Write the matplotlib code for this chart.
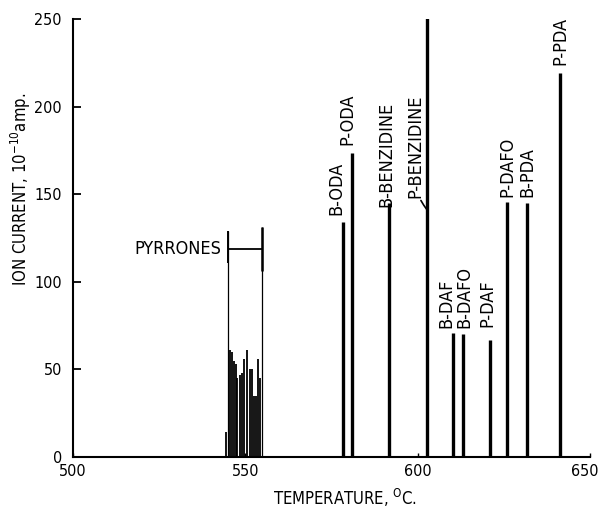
import matplotlib
matplotlib.use('Agg')
import matplotlib.pyplot as plt
from matplotlib.transforms import ScaledTranslation

plt.rcParams['font.family'] = ['DejaVu Sans']
plt.rcParams['font.stretch'] = 'condensed'
plt.rcParams['mathtext.fontset'] = 'custom'
plt.rcParams['mathtext.rm'] = 'DejaVu Sans:stretch=condensed'
plt.rcParams['mathtext.it'] = 'DejaVu Sans:stretch=condensed'

# pyrrone fragments, dense cluster around 545-555 C
pyrrone_temp = [544.4, 545.5, 546.1, 546.7, 547.3, 547.6, 548.4, 549.0, 549.6,
                550.5, 551.3, 551.9, 552.5, 553.1, 553.7, 554.2]
pyrrone_current = [14, 61, 60, 55, 53, 45, 47, 48, 56, 61, 50, 50, 35, 35, 56, 45]
pyrrone_range = (545.0, 554.8)
pyrrone_level = 119

# single peaks
peak_names = ['B-ODA', 'P-ODA', 'B-BENZIDINE', 'P-BENZIDINE', 'B-DAF',
              'B-DAFO', 'P-DAF', 'P-DAFO', 'B-PDA', 'P-PDA']
peak_temp = [578.3, 581.0, 591.7, 602.7, 610.2, 613.1, 621.0, 626.0, 631.7, 641.3]
peak_current = [134, 173.5, 145, 255, 71, 70, 67, 145.5, 145, 219]

# label offsets from the peak top, in points (dx, dy)
label_offsets = [(-4.7, 5), (-3.6, 6), (-1.8, -3), None, (-4.6, 3.6),
                 (0.9, 4.3), (-2.2, 9.4), (0, 3.6), (0, 4.3), (0, 5.8)]

fig = plt.figure(figsize=(6.01, 5.08), dpi=100)
ax = fig.add_axes([0.1215, 0.1004, 0.8605, 0.8622])

ax.vlines(pyrrone_temp, 0, pyrrone_current, color='black', linewidth=1.3)
ax.vlines(peak_temp, 0, peak_current, color='black', linewidth=2.4)

for name, t, c, off in zip(peak_names, peak_temp, peak_current, label_offsets):
    if off is None:
        continue
    ax.annotate(name, xy=(t, min(c, 250)), xytext=off, textcoords='offset points',
                rotation=90, ha='center', va='bottom', fontsize=13)

# P-BENZIDINE runs off scale, label sits left with a leader
ax.annotate('P-BENZIDINE', xy=(peak_temp[3], 141), xytext=(599.3, 148),
            rotation=90, ha='center', va='bottom', fontsize=13,
            arrowprops=dict(arrowstyle='-', color='black', linewidth=1.2,
                            connectionstyle='arc3,rad=0.25',
                            shrinkA=0, shrinkB=0))

# bracket marking the pyrrone range
lo, hi = pyrrone_range
ax.vlines([lo, hi], 0, [pyrrone_level + 10, pyrrone_level + 12],
          color='black', linewidth=0.9)
ax.vlines(hi, pyrrone_level - 13, pyrrone_level + 12, color='black', linewidth=1.8)
ax.vlines(lo, pyrrone_level - 8, pyrrone_level + 10, color='black', linewidth=1.4)
ax.hlines(pyrrone_level, lo, hi, color='black', linewidth=1.3)
ax.text(lo - 2, pyrrone_level, 'PYRRONES', ha='right', va='center', fontsize=13)

ax.set_xlim(500, 650)
ax.set_ylim(0, 250)
ax.set_xticks([500, 550, 600, 650])
ax.set_yticks([0, 50, 100, 150, 200, 250])
ax.spines['top'].set_visible(False)
ax.spines['right'].set_visible(False)
ax.spines['left'].set_linewidth(1.5)
ax.spines['bottom'].set_linewidth(1.5)
ax.tick_params(axis='y', direction='in', length=6, width=1.3, labelsize=11.5, pad=8)
ax.tick_params(axis='x', direction='in', length=3, width=1.0, labelsize=11.5, pad=5)

# pull the last x tick label in from the figure edge
last = ax.get_xticklabels()[-1]
last.set_transform(last.get_transform() + ScaledTranslation(-5 / 100, 0, fig.dpi_scale_trans))

ax.set_xlabel('TEMPERATURE, $^{\\mathrm{O}}$C.', fontsize=12)
ax.set_ylabel('ION CURRENT, 10$^{-10}$amp.', fontsize=12)
ax.xaxis.set_label_coords(0.526, -0.068)
ax.yaxis.set_label_coords(-0.078, 0.61)

fig.savefig('out.png', dpi=100)
